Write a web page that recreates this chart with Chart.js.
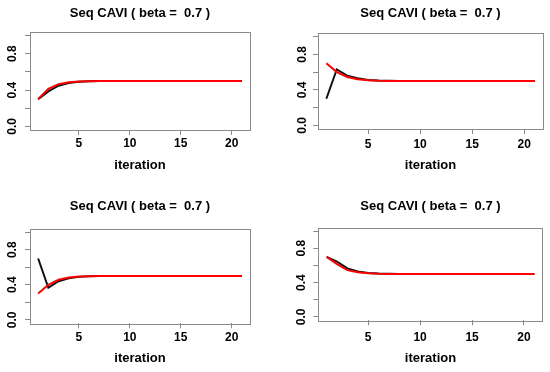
<!DOCTYPE html>
<html>
<head>
<meta charset="utf-8">
<script src="https://cdn.jsdelivr.net/npm/chart.js@4.4.1/dist/chart.umd.min.js"></script>
<style>
  body { margin: 0; background: #fff; }
  #wrap { position: relative; width: 550px; height: 372px; }
  #wrap canvas { position: absolute; }
</style>
</head>
<body>
<div id="wrap">
  <canvas id="c1" width="275" height="186" style="left:0;top:0"></canvas>
  <canvas id="c2" width="275" height="186" style="left:275px;top:0"></canvas>
  <canvas id="c3" width="275" height="186" style="left:0;top:186px"></canvas>
  <canvas id="c4" width="275" height="186" style="left:275px;top:186px"></canvas>
</div>
<script>
// iterations 1..21
const iterations = [1, 2, 3, 4, 5, 6, 7, 8, 9, 10, 11, 12, 13, 14, 15, 16, 17, 18, 19, 20, 21];
const xTicks = [5, 10, 15, 20];
const yTicks = [0, 0.2, 0.4, 0.6, 0.8, 1.0];
const yLabelled = [0, 0.4, 0.8];
const titleText = 'Seq CAVI ( beta =  0.7 )';
const xTitle = 'iteration';

// valeurs (noir / rouge)
const black1 = [0.30, 0.385, 0.448, 0.478, 0.491, 0.496, 0.499, 0.5, 0.5, 0.5, 0.5, 0.5, 0.5, 0.5, 0.5, 0.5, 0.5, 0.5, 0.5, 0.5, 0.5];
const red1   = [0.30, 0.415, 0.465, 0.486, 0.494, 0.498, 0.499, 0.5, 0.5, 0.5, 0.5, 0.5, 0.5, 0.5, 0.5, 0.5, 0.5, 0.5, 0.5, 0.5, 0.5];
const black2 = [0.30, 0.63, 0.56, 0.53, 0.512, 0.505, 0.502, 0.5, 0.5, 0.5, 0.5, 0.5, 0.5, 0.5, 0.5, 0.5, 0.5, 0.5, 0.5, 0.5, 0.5];
const red2   = [0.70, 0.60, 0.545, 0.52, 0.508, 0.503, 0.501, 0.5, 0.5, 0.5, 0.5, 0.5, 0.5, 0.5, 0.5, 0.5, 0.5, 0.5, 0.5, 0.5, 0.5];
const black3 = [0.70, 0.365, 0.44, 0.475, 0.49, 0.496, 0.499, 0.5, 0.5, 0.5, 0.5, 0.5, 0.5, 0.5, 0.5, 0.5, 0.5, 0.5, 0.5, 0.5, 0.5];
const red3   = [0.30, 0.40, 0.458, 0.483, 0.493, 0.497, 0.499, 0.5, 0.5, 0.5, 0.5, 0.5, 0.5, 0.5, 0.5, 0.5, 0.5, 0.5, 0.5, 0.5, 0.5];
const black4 = [0.70, 0.645, 0.565, 0.53, 0.512, 0.505, 0.502, 0.5, 0.5, 0.5, 0.5, 0.5, 0.5, 0.5, 0.5, 0.5, 0.5, 0.5, 0.5, 0.5, 0.5];
const red4   = [0.70, 0.615, 0.545, 0.52, 0.508, 0.503, 0.501, 0.5, 0.5, 0.5, 0.5, 0.5, 0.5, 0.5, 0.5, 0.5, 0.5, 0.5, 0.5, 0.5, 0.5];

const FONT = 'Liberation Sans, Arial, Helvetica, sans-serif';
const AXIS_GREY = '#8a8a8a';

// cadre autour de la zone de tracé (comme box() dans R)
const boxPlugin = {
  id: 'box',
  afterDraw(chart) {
    const a = chart.chartArea;
    const ctx = chart.ctx;
    ctx.save();
    ctx.strokeStyle = AXIS_GREY;
    ctx.lineWidth = 1;
    ctx.strokeRect(Math.round(a.left) + 0.5, Math.round(a.top) + 0.5,
                   Math.round(a.right - a.left), Math.round(a.bottom - a.top));
    ctx.restore();
  }
};

function buildPanel(id, black, red, p) {
  const ctx = document.getElementById(id).getContext('2d');
  return new Chart(ctx, {
    type: 'line',
    data: {
      labels: iterations,
      datasets: [
        { data: red.map((v, i) => ({ x: iterations[i], y: v })), borderColor: '#ff0000', borderWidth: 2, pointRadius: 0, tension: 0 },
        { data: black.map((v, i) => ({ x: iterations[i], y: v })), borderColor: '#111111', borderWidth: 2, pointRadius: 0, tension: 0 }
      ]
    },
    options: {
      responsive: false,
      devicePixelRatio: 1,
      animation: false,
      layout: { padding: { left: 0, top: 0, bottom: 0, right: 275 - p.r } },
      plugins: {
        legend: { display: false },
        tooltip: { enabled: false },
        title: {
          display: true,
          text: titleText,
          fullSize: false,
          color: '#000',
          font: { family: FONT, size: 13, weight: 'bold', lineHeight: '16px' },
          padding: { top: p.titleY - 8, bottom: p.t - p.titleY - 8 }
        }
      },
      scales: {
        x: {
          type: 'linear',
          min: 0.2,
          max: 21.8,
          afterBuildTicks: s => { s.ticks = xTicks.map(v => ({ value: v })); },
          afterFit: s => { s.height = 186 - p.b; },
          grid: { drawOnChartArea: false, drawTicks: true, tickLength: 5, color: AXIS_GREY },
          border: { display: false },
          ticks: {
            color: '#000',
            autoSkip: false,
            maxRotation: 0,
            padding: p.tickY - p.b - 12,
            font: { family: FONT, size: 12, weight: 'bold', lineHeight: '14px' }
          },
          title: {
            display: true,
            text: xTitle,
            color: '#000',
            font: { family: FONT, size: 13, weight: 'bold', lineHeight: '16px' },
            padding: { top: 0, bottom: 186 - p.xlabY - 8 }
          }
        },
        y: {
          min: -0.04,
          max: 1.04,
          afterBuildTicks: s => { s.ticks = yTicks.map(v => ({ value: v })); },
          afterFit: s => { s.width = p.l; },
          grid: { drawOnChartArea: false, drawTicks: true, tickLength: 5, color: AXIS_GREY },
          border: { display: false },
          ticks: {
            color: '#000',
            autoSkip: false,
            minRotation: 90,
            maxRotation: 90,
            crossAlign: 'center',
            padding: p.ylabPad,
            font: { family: FONT, size: 12, weight: 'bold', lineHeight: '14px' },
            callback: v => yLabelled.some(t => Math.abs(t - v) < 1e-9) ? v.toFixed(1) : ''
          }
        }
      }
    },
    plugins: [boxPlugin]
  });
}

buildPanel('c1', black1, red1, { l: 30, r: 250, t: 32, b: 130, titleY: 13.3, tickY: 144, xlabY: 165, ylabPad: 3.7 });
buildPanel('c2', black2, red2, { l: 43, r: 268, t: 33, b: 129, titleY: 13.3, tickY: 145, xlabY: 165, ylabPad: 2.2 });
buildPanel('c3', black3, red3, { l: 30, r: 250, t: 42.7, b: 137.3, titleY: 20, tickY: 151.7, xlabY: 172.7, ylabPad: 3.7 });
buildPanel('c4', black4, red4, { l: 43.3, r: 267.7, t: 41.7, b: 134.3, titleY: 20, tickY: 151.7, xlabY: 172.7, ylabPad: 3 });
</script>
</body>
</html>
